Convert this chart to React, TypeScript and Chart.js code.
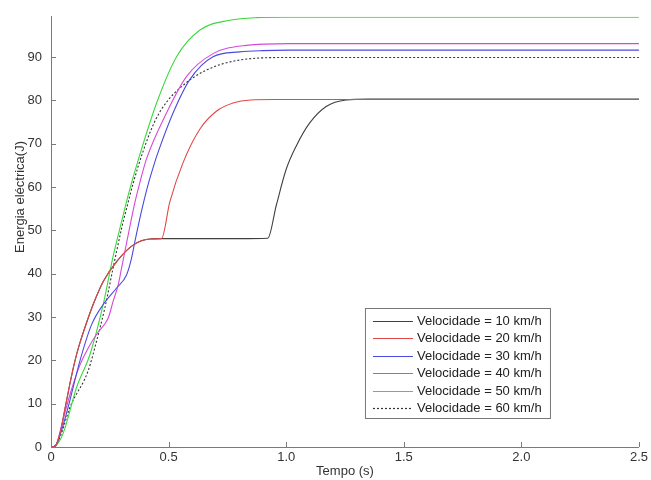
import React, { useEffect, useRef } from "react";
import { Chart, registerables } from "chart.js";

Chart.register(...registerables);

// Series: time (s) and electrical energy (J)
const t10 = [0, 0.02, 0.04, 0.06, 0.08, 0.10, 0.12, 0.15, 0.18, 0.222, 0.279, 0.349, 0.42, 0.47, 0.6, 0.8, 0.922, 0.958, 1.0, 1.043, 1.1, 1.17, 1.255, 1.35, 2.5];
const v10 = [0, 0.4, 3.5, 9, 14.5, 19.5, 23.5, 28.5, 33, 38.2, 42.8, 46.6, 48, 48.1, 48.1, 48.1, 48.2, 55.8, 64.1, 69.5, 74.8, 78.6, 80.1, 80.3, 80.3];

const t20 = [0, 0.02, 0.04, 0.06, 0.08, 0.10, 0.12, 0.15, 0.18, 0.222, 0.279, 0.349, 0.42, 0.47, 0.505, 0.562, 0.632, 0.703, 0.774, 0.85, 0.95, 2.5];
const v20 = [0, 0.4, 3.5, 9, 14.5, 19.5, 23.5, 28.5, 33, 38.2, 42.8, 46.6, 48, 48.1, 56.5, 65.7, 73.3, 77.5, 79.4, 80.1, 80.2, 80.2];

const t30 = [0, 0.02, 0.04, 0.073, 0.123, 0.173, 0.222, 0.279, 0.321, 0.342, 0.357, 0.385, 0.41, 0.441, 0.455, 0.519, 0.59, 0.689, 0.802, 0.9, 1.01, 2.5];
const v30 = [0, 0.3, 3, 9.2, 19.9, 28.3, 32.9, 36.7, 39.7, 43.5, 47.5, 54.5, 60, 65.7, 68, 77.1, 84.8, 90.1, 91.2, 91.5, 91.6, 91.6];

const t40 = [0, 0.02, 0.05, 0.08, 0.12, 0.16, 0.2, 0.23, 0.245, 0.264, 0.286, 0.3, 0.328, 0.357, 0.38, 0.406, 0.491, 0.576, 0.689, 0.83, 1.01, 2.5];
const v40 = [0, 0.4, 6, 12, 18.5, 23, 26.5, 28.5, 30, 33.6, 37.5, 41.3, 48.9, 56.5, 61.5, 66.5, 77.1, 85.5, 90.8, 92.7, 93.1, 93.1];

const t50 = [0, 0.02, 0.052, 0.109, 0.166, 0.222, 0.264, 0.3, 0.33, 0.364, 0.449, 0.534, 0.632, 0.76, 0.873, 1.0, 2.5];
const v50 = [0, 0.3, 3.2, 13.8, 21.4, 32.9, 44, 52, 58.5, 65, 79.4, 90.1, 96.2, 98.5, 99.1, 99.2, 99.2];

const t60 = [0, 0.02, 0.04, 0.081, 0.158, 0.194, 0.229, 0.264, 0.3, 0.321, 0.35, 0.39, 0.44, 0.49, 0.562, 0.66, 0.8, 1.0, 2.5];
const v60 = [0, 0.3, 2.5, 9.2, 17.6, 24.5, 32.1, 41.3, 50.4, 55, 61, 68, 75, 79.5, 83.5, 87, 89.3, 89.9, 89.9];

const seriesLabels = [
  "Velocidade = 10 km/h",
  "Velocidade = 20 km/h",
  "Velocidade = 30 km/h",
  "Velocidade = 40 km/h",
  "Velocidade = 50 km/h",
  "Velocidade = 60 km/h",
];

const xTickValues = [0, 0.5, 1, 1.5, 2, 2.5];
const yTickValues = [0, 10, 20, 30, 40, 50, 60, 70, 80, 90];

const xTitle = "Tempo (s)";
const yTitle = "Energia eléctrica(J)";

const FONT = '"Liberation Sans", Arial, sans-serif';

const pts = (t: number[], v: number[]) => t.map((x, i) => ({ x, y: v[i] }));

const inwardTicks = {
  id: "inwardTicks",
  afterDraw(chart: any) {
    const { ctx, chartArea, scales } = chart;
    const xs = scales.x;
    const ys = scales.y;
    ctx.save();
    ctx.strokeStyle = "#7a7a7a";
    ctx.lineWidth = 1;
    ctx.beginPath();
    xs.ticks.forEach((tk: any) => {
      const px = Math.round(xs.getPixelForValue(tk.value)) + 0.5;
      ctx.moveTo(px, chartArea.bottom);
      ctx.lineTo(px, chartArea.bottom - 5);
    });
    ys.ticks.forEach((tk: any) => {
      const py = Math.round(ys.getPixelForValue(tk.value)) + 0.5;
      ctx.moveTo(chartArea.left, py);
      ctx.lineTo(chartArea.left + 5, py);
    });
    ctx.stroke();

    // axis titles
    ctx.fillStyle = "#333";
    ctx.font = `13px ${FONT}`;
    ctx.textAlign = "center";
    ctx.textBaseline = "middle";
    ctx.fillText(xTitle, (chartArea.left + chartArea.right) / 2, 471);
    ctx.save();
    ctx.translate(20, 197);
    ctx.rotate(-Math.PI / 2);
    ctx.fillText(yTitle, 0, 0);
    ctx.restore();

    // legend box
    const left = chartArea.right - 274;
    const top = chartArea.bottom - 139;
    const w = 185;
    const h = 110;
    ctx.fillStyle = "#fff";
    ctx.fillRect(left, top, w, h);
    ctx.strokeStyle = "#777";
    ctx.strokeRect(left + 0.5, top + 0.5, w, h);
    chart.data.datasets.forEach((ds: any, i: number) => {
      const cy = Math.round(top + 12.5 + i * 17.5) + 0.5;
      ctx.save();
      ctx.strokeStyle = ds.borderColor;
      ctx.lineWidth = 1.2;
      ctx.setLineDash(ds.borderDash || []);
      ctx.beginPath();
      ctx.moveTo(left + 8, cy);
      ctx.lineTo(left + 48, cy);
      ctx.stroke();
      ctx.restore();
      ctx.fillStyle = "#222";
      ctx.textAlign = "left";
      ctx.textBaseline = "middle";
      ctx.font = `13px ${FONT}`;
      ctx.fillText(ds.label, left + 52, cy);
    });
    ctx.restore();
  },
};

export default function App() {
  const ref = useRef<HTMLCanvasElement>(null);

  useEffect(() => {
    if (!ref.current) return;
    const mk = (i: number, t: number[], v: number[], color: string, extra: any = {}) => ({
      label: seriesLabels[i],
      data: pts(t, v),
      borderColor: color,
      backgroundColor: color,
      borderWidth: 1.1,
      pointRadius: 0,
      fill: false,
      cubicInterpolationMode: "monotone",
      order: 0,
      ...extra,
    });
    const chart = new Chart(ref.current, {
      type: "line",
      data: {
        datasets: [
          mk(0, t10, v10, "#404040", { order: 1 }),
          mk(1, t20, v20, "#e04848"),
          mk(2, t30, v30, "#4a4ae0"),
          mk(3, t40, v40, "#d848d8"),
          mk(4, t50, v50, "#3cd83c"),
          mk(5, t60, v60, "#333333", { borderDash: [2, 2] }),
        ],
      },
      options: {
        animation: false,
        responsive: false,
        maintainAspectRatio: false,
        layout: { padding: { top: 13, right: 10, left: 0, bottom: 0 } },
        plugins: { legend: { display: false }, tooltip: { enabled: false } },
        scales: {
          x: {
            type: "linear",
            min: 0,
            max: 2.5,
            afterBuildTicks: (s: any) => { s.ticks = xTickValues.map((value) => ({ value })); },
            ticks: { color: "#333", font: { size: 13, family: FONT }, padding: 3, maxRotation: 0, autoSkip: false },
            grid: { display: true, drawOnChartArea: false, drawTicks: false },
            border: { display: true, color: "#7a7a7a", width: 1 },
            afterFit: (s: any) => { s.height = 33; },
          },
          y: {
            type: "linear",
            min: 0,
            max: 99.3,
            afterBuildTicks: (s: any) => { s.ticks = yTickValues.map((value) => ({ value })); },
            ticks: { color: "#333", font: { size: 13, family: FONT }, padding: 9, autoSkip: false },
            grid: { display: true, drawOnChartArea: false, drawTicks: false },
            border: { display: true, color: "#7a7a7a", width: 1 },
            afterFit: (s: any) => { s.width = 51; },
          },
        },
      } as any,
      plugins: [inwardTicks],
    });
    return () => chart.destroy();
  }, []);

  return (
    <div style={{ position: "absolute", left: 0, top: 0, width: 651, height: 480, background: "#fff" }}>
      <canvas ref={ref} width={651} height={480} />
    </div>
  );
}
